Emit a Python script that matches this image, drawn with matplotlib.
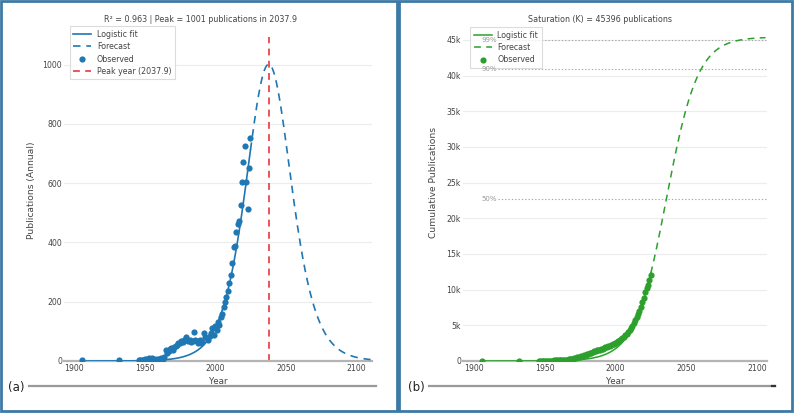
import numpy as np
import matplotlib
matplotlib.use("Agg")
import matplotlib.pyplot as plt
from matplotlib.lines import Line2D
from matplotlib.patches import Rectangle

plt.rcParams['font.family'] = ['DejaVu Sans']

# ---------------- data ----------------
years = [1906, 1932,
         1946, 1947, 1948, 1949, 1950, 1951, 1952, 1953, 1954, 1955, 1956, 1957, 1958, 1959,
         1960, 1961, 1962, 1963, 1964, 1965, 1966, 1967, 1968, 1969, 1970, 1971, 1972, 1973,
         1974, 1975, 1976, 1977, 1978, 1979, 1980, 1981, 1982, 1983, 1984, 1985, 1986, 1987,
         1988, 1989, 1990, 1991, 1992, 1993, 1994, 1995, 1996, 1997, 1998, 1999, 2000, 2001,
         2002, 2003, 2004, 2005, 2006, 2007, 2008, 2009, 2010, 2011, 2012, 2013, 2014, 2015,
         2016, 2017, 2018, 2019, 2020, 2021, 2022, 2023, 2024, 2025]
annual = [2, 2,
          3, 5, 2, 4, 6, 3, 8, 10, 6, 9, 5, 7, 4, 6,
          8, 5, 10, 7, 12, 37, 27, 35, 40, 43, 38, 48, 52, 55,
          60, 62, 68, 65, 70, 80, 72, 66, 70, 64, 68, 97, 70, 66,
          62, 70, 60, 65, 93, 80, 76, 72, 85, 95, 110, 88, 117, 105,
          130, 121, 150, 160, 183, 200, 215, 235, 262, 290, 330, 384, 389, 436,
          461, 472, 526, 605, 672, 725, 605, 513, 650, 751]

# annual (left) model: bell-shaped derivative of a logistic
peak_year = 2037.9
peak_value = 1001
rate_annual = 0.093
r_squared = 0.963
# cumulative (right) model
K_sat = 45396
mid_year_cum = 2036.0
rate_cum = 0.090

fit_end = 2025
forecast_end_a = 2110
forecast_end_b = 2106
sat_fracs = [0.5, 0.9, 0.99]
sat_labels = ["50%", "90%", "99%"]

left_ticks = [0, 200, 400, 600, 800, 1000]
right_ticks = [0, 5000, 10000, 15000, 20000, 25000, 30000, 35000, 40000, 45000]
right_ticklabels = ["0", "5k", "10k", "15k", "20k", "25k", "30k", "35k", "40k", "45k"]
x_ticks = [1900, 1950, 2000, 2050, 2100]

BLUE = '#1f77b4'
GREEN = '#2ca02c'
GRID = '#ececec'
TXT = '#444444'


def annual_model(t):
    u = np.exp(rate_annual * (np.asarray(t) - peak_year))
    return peak_value * 4 * u / (1 + u) ** 2


def cum_model(t):
    return K_sat / (1 + np.exp(-rate_cum * (np.asarray(t) - mid_year_cum)))


cumulative = np.cumsum(annual)

W, H = 794, 413
fig = plt.figure(figsize=(W / 100, H / 100), dpi=100)


def fx(px):
    return px / W


def fy(py):
    return 1 - py / H


# panel frames
FRAME = '#3b7aa6'
for (x0, x1) in [(1, 397), (399, 792)]:
    fig.patches.append(Rectangle((fx(x0), fy(411)), fx(x1 - x0), (411 - 1) / H,
                                 transform=fig.transFigure, fill=False,
                                 edgecolor=FRAME, linewidth=2))

TICK_FS = 5.6
LEG_FS = 5.7


def style_axes(ax):
    for s in ['left', 'right', 'top']:
        ax.spines[s].set_visible(False)
    ax.spines['bottom'].set_color('#b4b4b4')
    ax.spines['bottom'].set_linewidth(1.6)
    ax.tick_params(length=0, labelsize=TICK_FS, colors=TXT)
    ax.tick_params(axis='x', pad=2.5)
    ax.tick_params(axis='y', pad=1.5)
    ax.yaxis.grid(True, color=GRID, linewidth=0.8)
    ax.set_axisbelow(True)
    ax.set_xticks(x_ticks)


def make_legend(ax, anchor):
    leg = ax.legend(loc='upper left', bbox_to_anchor=anchor, borderaxespad=0,
                    fontsize=LEG_FS, frameon=True, fancybox=False, edgecolor='#d4d4d4',
                    labelcolor=TXT, handlelength=2.3, handletextpad=0.7,
                    labelspacing=0.42, borderpad=0.45, framealpha=0.8)
    leg.get_frame().set_linewidth(0.8)
    return leg


# ---------------- left panel ----------------
axa = fig.add_axes([fx(64), fy(361), fx(372 - 64), (361 - 37) / H])
style_axes(axa)
t_fit = np.linspace(years[0], fit_end, 400)
t_fc = np.linspace(fit_end, forecast_end_a, 300)
axa.plot(t_fit, annual_model(t_fit), color=BLUE, lw=1.2, label='Logistic fit', zorder=3)
axa.plot(t_fc, annual_model(t_fc), color=BLUE, lw=1.2, ls=(0, (4.5, 3.5)), label='Forecast', zorder=3)
axa.scatter(years, annual, s=20, color=BLUE, label='Observed', zorder=4, linewidths=0)
axa.axvline(peak_year, color='#e8262b', lw=1.1, ls=(0, (4.5, 3.5)), label=f'Peak year ({peak_year})', zorder=2)
axa.set_xlim(1893, 2111)
axa.set_ylim(0, 1093)
axa.set_yticks(left_ticks)
axa.set_xlabel('Year', fontsize=6.3, color=TXT)
axa.xaxis.set_label_coords(0.5, -0.05)
axa.set_ylabel('Publications (Annual)', fontsize=6.6, color=TXT)
axa.yaxis.set_label_coords(-(64 - 36) / 308, (361 - 190) / 324)
fig.text(fx(201), fy(19), f'R² = {r_squared} | Peak = {peak_value} publications in {peak_year}',
         fontsize=5.8, color=TXT, ha='center', va='center')
make_legend(axa, (0.018, 1.033))

# ---------------- right panel ----------------
axb = fig.add_axes([fx(463), fy(361), fx(767 - 463), (361 - 37) / H])
style_axes(axb)
t_fc_b = np.linspace(fit_end, forecast_end_b, 300)
axb.plot(t_fit, cum_model(t_fit), color=GREEN, lw=1.1, label='Logistic fit', zorder=3)
axb.plot(t_fc_b, cum_model(t_fc_b), color=GREEN, lw=1.1, ls=(0, (4.5, 3.5)), label='Forecast', zorder=3)
axb.scatter(years, cumulative, s=20, color=GREEN, label='Observed', zorder=4, linewidths=0)
for frac, lab in zip(sat_fracs, sat_labels):
    axb.plot([1917, forecast_end_b], [frac * K_sat, frac * K_sat], color='#a8a8a8',
             lw=0.8, ls=(0, (1.2, 1.8)), zorder=2)
    axb.text(1916.5, frac * K_sat, lab, fontsize=5, color='#999999', ha='right', va='center',
             zorder=10)
axb.set_xlim(1892.5, 2107)
axb.set_ylim(0, 45400)
axb.set_yticks(right_ticks)
axb.set_yticklabels(right_ticklabels)
axb.set_xlabel('Year', fontsize=6.3, color=TXT)
axb.xaxis.set_label_coords(0.5, -0.05)
axb.set_ylabel('Cumulative Publications', fontsize=6.6, color=TXT)
axb.yaxis.set_label_coords(-(463 - 438) / 304, (361 - 182) / 324)
fig.text(fx(600), fy(19), f'Saturation (K) = {K_sat} publications',
         fontsize=5.8, color=TXT, ha='center', va='center')
make_legend(axb, (0.023, 1.03))

# ---------------- panel captions ----------------
for lab, x_txt, x0, x1 in [('(a)', 8, 29, 376), ('(b)', 408, 429, 775)]:
    fig.text(fx(x_txt), fy(388), lab, fontsize=8.5, color='#222222', ha='left', va='center')
    fig.add_artist(Line2D([fx(x0), fx(x1)], [fy(386), fy(386)], color='#9a9a9a', lw=1.6,
                          transform=fig.transFigure))
fig.add_artist(Line2D([fx(772), fx(775)], [fy(386), fy(386)], color='#333333', lw=1.6,
                      transform=fig.transFigure))

fig.savefig('out.png', dpi=100)
